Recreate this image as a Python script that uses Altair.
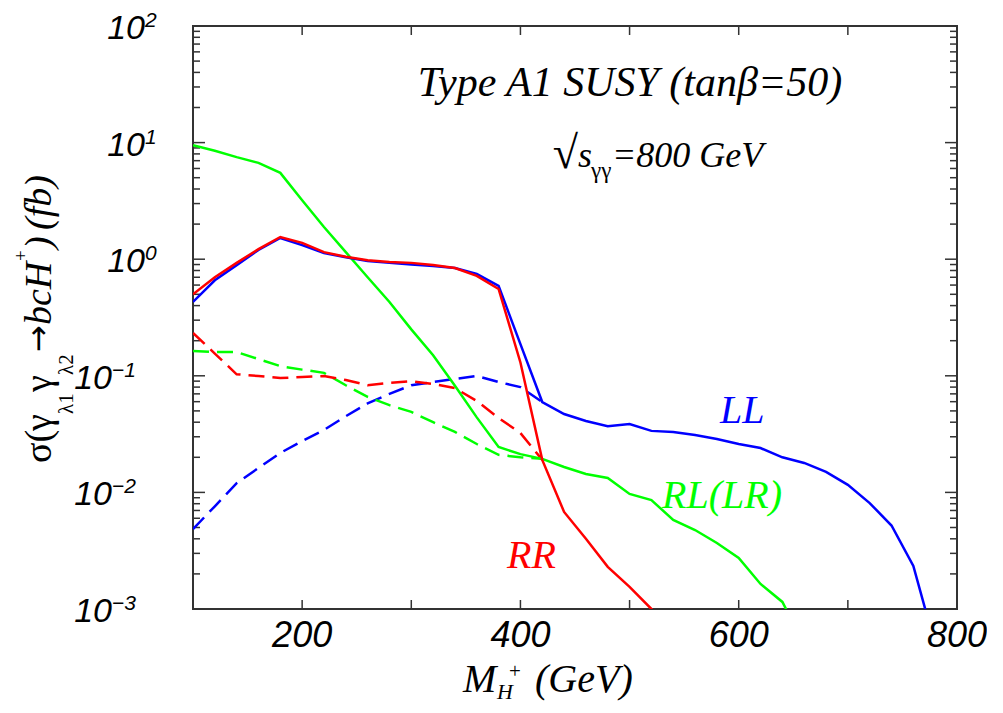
import altair as alt
import pandas as pd

# ---------------- data ----------------
MASS_LONG = [100, 120, 140, 160, 180, 200, 220, 240, 260, 280, 300, 320, 340, 360,
             380, 400, 420, 440, 460, 480, 500, 520, 540, 560, 580, 600, 620, 640,
             660, 680, 700, 720, 740, 760, 780]
LL_SOLID = [0.43, 0.66, 0.89, 1.2, 1.52, 1.32, 1.13, 1.04, 0.966, 0.93, 0.90, 0.875,
            0.84, 0.746, 0.59, 0.187, 0.0596, 0.047, 0.041, 0.037, 0.0386, 0.0337,
            0.033, 0.031, 0.0287, 0.026, 0.024, 0.020, 0.0179, 0.015, 0.0116, 0.0081,
            0.0052, 0.00234, 0.00049]
RR_SOLID = [0.50, 0.70, 0.93, 1.22, 1.55, 1.38, 1.15, 1.05, 0.98, 0.946, 0.93, 0.89,
            0.84, 0.72, 0.555, 0.13, 0.019, 0.0068, 0.004, 0.0023, 0.00155, 0.001,
            0.00065]
RL_SOLID = [9.5, 8.5, 7.5, 6.7, 5.5, 3.2, 1.89, 1.15, 0.70, 0.43, 0.25, 0.15, 0.082,
            0.044, 0.0245, 0.0213, 0.0194, 0.0165, 0.0144, 0.0133, 0.0097, 0.0086,
            0.0058, 0.00476, 0.00368, 0.00274, 0.00164, 0.00115, 0.0005]
LL_DASH = [0.00485, 0.0076, 0.012, 0.0162, 0.0218, 0.0276, 0.0343, 0.045, 0.058,
           0.070, 0.083, 0.0885, 0.094, 0.0996, 0.0885, 0.080, 0.0596]
RR_DASH = [0.233, 0.155, 0.103, 0.0995, 0.0957, 0.0977, 0.0995, 0.092, 0.083, 0.087,
           0.090, 0.085, 0.0785, 0.0608, 0.0435, 0.0323, 0.019]
RL_DASH = [0.163, 0.16, 0.16, 0.139, 0.121, 0.113, 0.106, 0.083, 0.066, 0.056, 0.049,
           0.040, 0.033, 0.026, 0.021, 0.020, 0.0194]

X_TICKS = [200, 300, 400, 500, 600, 700]
X_LABELS = [200, 400, 600, 800]
Y_MAJOR = [1e-3, 1e-2, 1e-1, 1e0, 1e1, 1e2]
Y_EXP = ["\u22123", "\u22122", "\u22121", "0", "1", "2"]
Y_MINOR = [m * d for d in [1e-3, 1e-2, 1e-1, 1e0, 1e1] for m in range(2, 10)]

W, H = 764, 583
xscale = alt.Scale(domain=[100, 800], nice=False, zero=False)
yscale = alt.Scale(type="log", domain=[1e-3, 1e2], nice=False)

BLUE, RED, GREEN = "#0000ff", "#ff0000", "#00ff00"
SANS = "Liberation Sans"
SERIF = "Liberation Serif"
AXC = "#333333"


def line(xs, ys, color, dashed):
    df = pd.DataFrame({"m": xs[:len(ys)], "s": ys})
    mk = dict(color=color, strokeWidth=2.5, clip=True)
    if dashed:
        mk["strokeDash"] = [16, 8]
    return alt.Chart(df).mark_line(**mk).encode(
        x=alt.X("m:Q", scale=xscale, axis=None),
        y=alt.Y("s:Q", scale=yscale, axis=None),
    )


def ann(text, x, y, size, color="black", font=SERIF, style="italic", align="left",
        angle=0, baseline="alphabetic"):
    # x, y given in page pixels; converted to plot-area pixels
    return alt.Chart(pd.DataFrame({"t": [text]})).mark_text(
        font=font, fontStyle=style, fontSize=size, color=color, align=align,
        baseline=baseline, angle=angle,
    ).encode(x=alt.value(x - 193), y=alt.value(y - 26), text="t:N")


ymaj = pd.DataFrame({"v": Y_MAJOR, "exp": Y_EXP})
ymin = pd.DataFrame({"v": Y_MINOR})
xt = pd.DataFrame({"v": X_TICKS})
xl = pd.DataFrame({"v": X_LABELS, "t": [str(v) for v in X_LABELS]})


def yticks(df, length):
    base = alt.Chart(df).mark_rule(color=AXC, strokeWidth=1.5)
    enc = dict(y=alt.Y("v:Q", scale=yscale, axis=None))
    return [base.encode(x=alt.value(0), x2=alt.value(length), **enc),
            base.encode(x=alt.value(W), x2=alt.value(W - length), **enc)]


def xticks(df, length):
    base = alt.Chart(df).mark_rule(color=AXC, strokeWidth=1.5)
    enc = dict(x=alt.X("v:Q", scale=xscale, axis=None))
    return [base.encode(y=alt.value(H), y2=alt.value(H - length), **enc),
            base.encode(y=alt.value(0), y2=alt.value(length), **enc)]


ylab_base = alt.Chart(ymaj).transform_calculate(
    xs="length(datum.exp) > 1 ? -81 : -48")
ylab_exp = ylab_base.mark_text(
    font=SANS, fontStyle="italic", fontSize=21, align="left", baseline="alphabetic",
    dy=1, color="black",
).encode(x=alt.X("xs:Q", scale=None), y=alt.Y("v:Q", scale=yscale, axis=None),
         text="exp:N")
ylab_ten = ylab_base.mark_text(
    font=SANS, fontStyle="italic", fontSize=34, align="right", baseline="alphabetic",
    dy=13, color="black",
).encode(x=alt.X("xs:Q", scale=None), y=alt.Y("v:Q", scale=yscale, axis=None),
         text=alt.value("10"))

xlab = alt.Chart(xl).mark_text(
    font=SANS, fontStyle="italic", fontSize=36, align="center", baseline="middle",
    color="black",
).encode(x=alt.X("v:Q", scale=xscale, axis=None), y=alt.value(H + 27), text="t:N")

layers = []
layers += yticks(ymaj, 12) + yticks(ymin, 7) + xticks(xt, 9)
layers += [
    line(MASS_LONG, LL_DASH, BLUE, True),
    line(MASS_LONG, RL_DASH, GREEN, True),
    line(MASS_LONG, RR_DASH, RED, True),
    line(MASS_LONG, RL_SOLID, GREEN, False),
    line(MASS_LONG, LL_SOLID, BLUE, False),
    line(MASS_LONG, RR_SOLID, RED, False),
    ylab_exp, ylab_ten, xlab,
    # in-plot annotations
    ann("Type A1 SUSY (tan\u03b2=50)", 630, 96, 42, align="center"),
    ann("\u221a", 578, 168, 46, style="normal", align="right"),
    ann("s", 578, 167, 36),
    ann("\u03b3\u03b3", 591, 178, 23, style="normal"),
    ann("=800 GeV", 612, 167, 36),
    ann("LL", 720, 423, 40, color=BLUE),
    ann("RL(LR)", 662, 508, 40, color=GREEN),
    ann("RR", 507, 568, 40, color=RED),
    # x-axis title
    ann("M", 463, 692, 40),
    ann("H", 497, 699, 22),
    ann("+", 509, 678, 21, style="normal"),
    ann("(GeV)", 535, 692, 40),
    # y-axis title (rotated, reading upward)
    ann("\u03c3(", 51, 463, 38, style="normal", angle=270),
    ann("\u03b3", 51, 431, 38, style="normal", angle=270),
    ann("\u03bb1", 73, 414, 21, style="normal", angle=270),
    ann("\u03b3", 51, 392, 38, style="normal", angle=270),
    ann("\u03bb2", 73, 375, 21, style="normal", angle=270),
    ann("\u2192", 49, 352, 32, font="DejaVu Sans", style="normal", angle=270),
    ann("bcH", 51, 325, 38, angle=270),
    ann("+", 27, 261, 19, style="normal", angle=270),
    ann(")", 51, 249, 38, angle=270),
    ann("(fb)", 51, 230, 38, angle=270),
]

chart = alt.layer(*layers).properties(
    width=W, height=H,
    autosize=alt.AutoSizeParams(type="none"),
    padding={"left": 185, "top": 18, "right": 30, "bottom": 96},
    background="white",
).configure_view(stroke=AXC, strokeWidth=2)

chart.save("out.html", embed_options={"renderer": "svg", "actions": False})
